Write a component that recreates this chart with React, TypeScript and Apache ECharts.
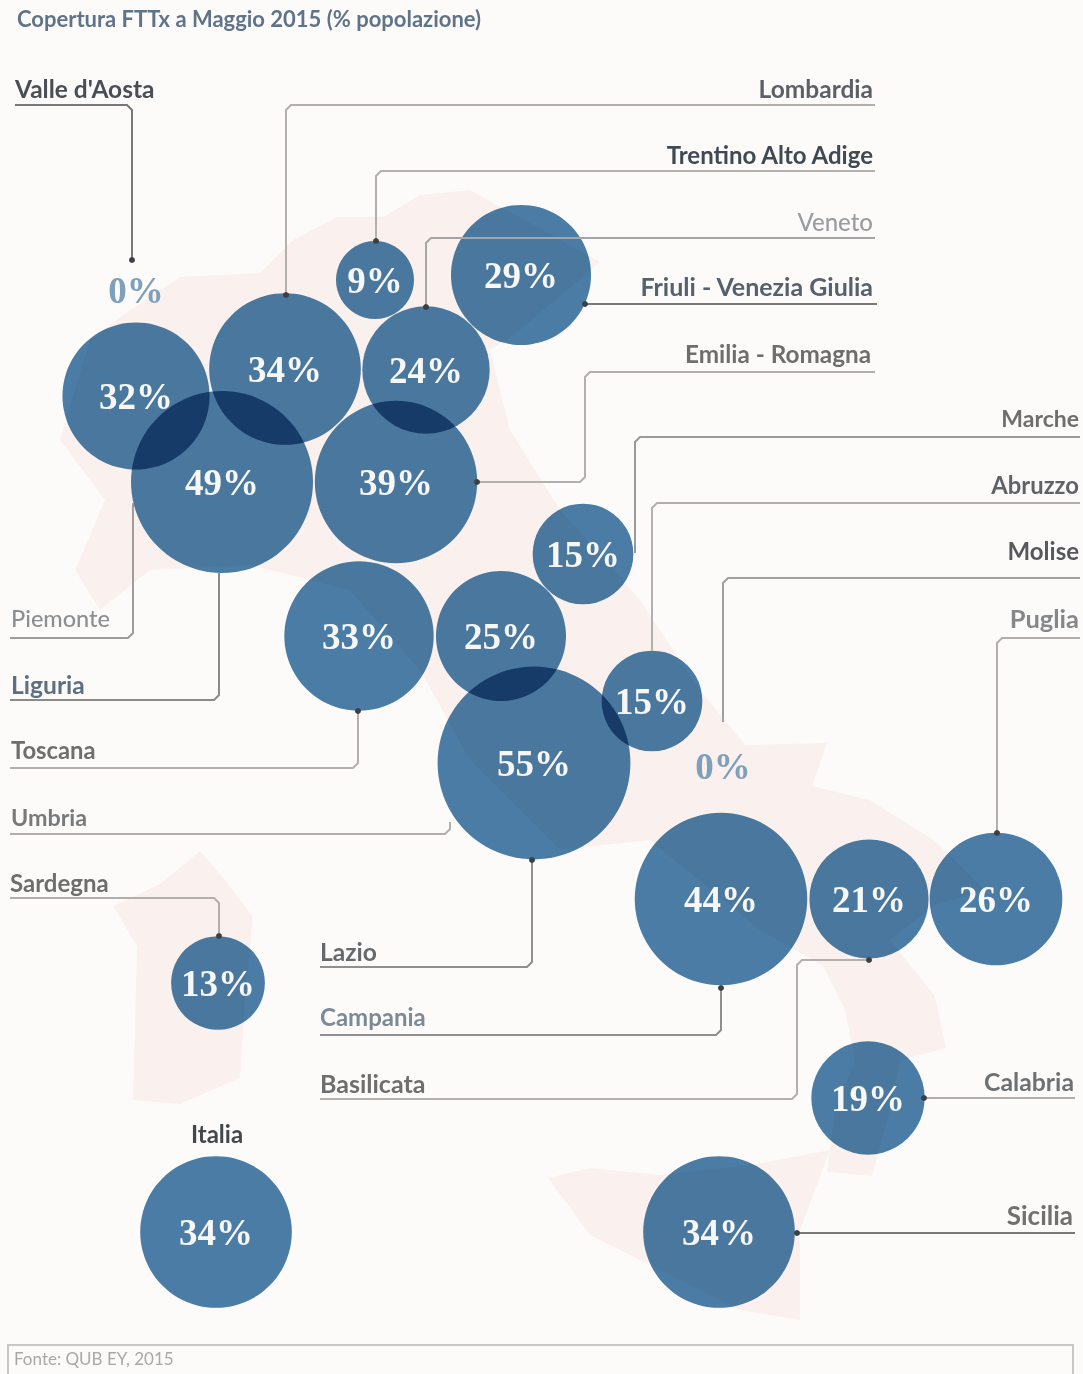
import React, { useEffect, useRef } from "react";
import * as echarts from "echarts";

const regions = ["Piemonte","Valle d'Aosta","Lombardia","Trentino Alto Adige","Veneto","Friuli - Venezia Giulia","Liguria","Emilia - Romagna","Toscana","Umbria","Marche","Lazio","Abruzzo","Molise","Campania","Puglia","Basilicata","Calabria","Sicilia","Sardegna","Italia"];
const coverage = [32,0,34,9,24,29,49,39,33,25,15,55,15,0,44,26,21,19,34,13,34];
const bubbleX = [136,136,285,375,426,521,222,396,359,501,583,534,652,723,721,996,869,868,719,218,216];
const bubbleY = [396,290,369,280,370,275,482,482,636,636,554,763,701,766,899,899,899,1098,1232,983,1232];

const title = "Copertura FTTx a Maggio 2015 (% popolazione)";
const source = "Fonte: QUB EY, 2015";

// label layout: region name, x, y, align, colour, weight, font size
const labelLayout: [string, number, number, string, string, number, number][] = [
  ["Valle d'Aosta",15,88,"left","#4a4f55",700,24.5],
  ["Lombardia",873,88,"right","#5c6066",700,24.5],
  ["Trentino Alto Adige",873,154,"right","#3f4a55",700,24],
  ["Veneto",873,221,"right","#9a9da0",500,24],
  ["Friuli - Venezia Giulia",873,286,"right","#55616c",700,25],
  ["Emilia - Romagna",871,353,"right","#6e6e6e",700,24.3],
  ["Marche",1079,418,"right","#6e6e6e",700,23],
  ["Abruzzo",1079,485,"right","#5f6368",700,23.8],
  ["Molise",1079,550,"right","#55595e",700,24],
  ["Puglia",1079,618,"right","#85888b",700,25.5],
  ["Piemonte",11,618,"left","#8c8f92",500,23.5],
  ["Liguria",11,684,"left","#5d6f80",700,24.6],
  ["Toscana",11,750,"left","#6e6e6e",700,23.8],
  ["Umbria",11,817,"left","#77797b",700,23.3],
  ["Sardegna",10,882,"left","#6e6e6e",700,24],
  ["Lazio",320,951,"left","#66696c",700,24.6],
  ["Campania",320,1016,"left","#7c8a96",700,24],
  ["Basilicata",320,1083,"left","#6e6e6e",700,25],
  ["Calabria",1074,1081,"right","#6e7174",700,24.8],
  ["Sicilia",1073,1215,"right","#707070",700,26],
  ["Italia",217,1133,"center","#45484b",700,24],
];

// connector routes: points, colour, whether the end carries a dot
const connectors: [number[][], string, boolean][] = [
  [[[15,105],[132,105],[132,260]],"#77787a",true],
  [[[875,105],[286,105],[286,295]],"#b3afad",true],
  [[[875,171],[376,171],[376,241]],"#b3afad",true],
  [[[875,238],[426,238],[426,307]],"#a5a5a5",true],
  [[[877,304],[585,304]],"#77787a",true],
  [[[875,372],[585,372],[585,482],[477,482]],"#b3afad",true],
  [[[1080,437],[635,437],[635,553]],"#9a9a9a",false],
  [[[1080,503],[652,503],[652,651]],"#b3afad",false],
  [[[1080,578],[723,578],[723,722]],"#a0a0a0",false],
  [[[1080,638],[997,638],[997,833]],"#b3afad",true],
  [[[10,638],[133,638],[133,503]],"#9d9d9d",false],
  [[[10,700],[219,700],[219,573]],"#8a8a8a",false],
  [[[10,768],[358,768],[358,711]],"#b3afad",true],
  [[[10,834],[450,834],[450,822]],"#b3afad",false],
  [[[10,898],[219,898],[219,936]],"#b3afad",true],
  [[[320,967],[532,967],[532,860]],"#8f8f8f",true],
  [[[320,1035],[721,1035],[721,988]],"#8f8f8f",true],
  [[[320,1099],[797,1099],[797,960],[869,960]],"#b3afad",true],
  [[[1075,1098],[924,1098]],"#b3afad",true],
  [[[1075,1233],[797,1233]],"#77787a",true],
];

const mainland = [[180,277],[260,273],[293,240],[337,217],[383,217],[420,195],[470,190],[600,262],[520,330],[490,350],[510,430],[560,510],[640,600],[700,690],[745,745],[827,743],[812,786],[870,800],[935,841],[985,890],[935,905],[890,940],[935,996],[946,1048],[900,1060],[890,1110],[872,1176],[827,1172],[835,1110],[855,1060],[845,1010],[823,966],[760,930],[650,840],[560,850],[470,760],[420,670],[350,590],[250,565],[150,570],[100,610],[75,570],[105,500],[60,440],[90,340],[130,310]];
const sicily = [[548,1178],[590,1168],[660,1175],[750,1165],[830,1150],[800,1230],[800,1320],[740,1310],[660,1270],[590,1235]];
const sardinia = [[200,851],[225,880],[253,917],[245,1000],[240,1078],[180,1104],[133,1100],[137,946],[113,906],[160,884]];

const chamfer = (pts: number[][]) => {
  const out: number[][] = [pts[0]];
  for (let i = 1; i < pts.length - 1; i++) {
    const [a, b, c] = [pts[i - 1], pts[i], pts[i + 1]];
    const d = 5;
    const s = (u: number) => Math.sign(u);
    out.push([b[0] + s(a[0] - b[0]) * d, b[1] + s(a[1] - b[1]) * d]);
    out.push([b[0] + s(c[0] - b[0]) * d, b[1] + s(c[1] - b[1]) * d]);
  }
  out.push(pts[pts.length - 1]);
  return out;
};

export default function App() {
  const ref = useRef<HTMLDivElement>(null);
  useEffect(() => {
    document.body.style.margin = "0";
    document.body.style.overflow = "hidden";
    const chart = echarts.init(ref.current!, null, { renderer: "svg" });
    const landStyle = { fill: "#faf1ee" };
    const text = (t: string, x: number, y: number, align: string, fill: string, weight: number, size: number, family = "Lato") => ({
      type: "text", x, y, z: 5,
      style: { text: t, fill, textAlign: align, textVerticalAlign: "middle", font: `${weight} ${size}px ${family}` },
    });
    chart.setOption({
      animation: false,
      backgroundColor: "#fdfbfa",
      grid: { left: 0, right: 0, top: 0, bottom: 0 },
      xAxis: { type: "value", min: 0, max: 1083, show: false },
      yAxis: { type: "value", min: 0, max: 1374, inverse: true, show: false },
      graphic: [
        { type: "polygon", z: 0, shape: { points: mainland }, style: landStyle },
        { type: "polygon", z: 0, shape: { points: sicily }, style: landStyle },
        { type: "polygon", z: 0, shape: { points: sardinia }, style: landStyle },
        text(title, 17, 18, "left", "#5f7488", 700, 22),
        ...labelLayout.map(([t, x, y, a, c, w, s]) => text(t, x, y, a, c, w, s)),
        text(source, 14, 1358, "left", "#a8a8a8", 400, 17),
        { type: "polyline", z: 1, shape: { points: [[8, 1374], [8, 1345], [1073, 1345], [1073, 1374]] }, style: { stroke: "#c8c6c6", lineWidth: 2, fill: "none" } },
      ],
      series: [
        {
          type: "scatter",
          z: 3,
          data: regions.map((name, i) => ({
            name,
            value: [bubbleX[i], bubbleY[i], coverage[i]],
            label: { color: coverage[i] === 0 ? "#7fa0ba" : "#f7f7f5" },
          })),
          symbol: "circle",
          symbolSize: (d: number[]) => 26 * Math.sqrt(d[2]),
          itemStyle: { color: "#4a7ea8", opacity: 1 },
          label: {
            show: true,
            position: "inside",
            fontFamily: "Liberation Serif",
            fontWeight: 700,
            fontSize: 37,
            formatter: (p: any) => `${p.value[2]}%`,
          },
        },
        {
          type: "custom",
          z: 4,
          coordinateSystem: "cartesian2d",
          data: connectors.map((_, i) => [i]),
          renderItem: (params: any, api: any) => {
            const [route, color, dot] = connectors[params.dataIndex];
            const pts = chamfer(route).map((p) => api.coord(p));
            const end = api.coord(route[route.length - 1]);
            const children: any[] = [
              { type: "polyline", shape: { points: pts }, style: { stroke: color, lineWidth: 2, fill: "none" } },
            ];
            if (dot) children.push({ type: "circle", shape: { cx: end[0], cy: end[1], r: 3 }, style: { fill: "#3c4045" } });
            return { type: "group", silent: true, children };
          },
        },
      ],
    });
    return () => chart.dispose();
  }, []);
  return (
    <>
      <style>{`path[fill="#4a7ea8"]{mix-blend-mode:multiply}`}</style>
      <div ref={ref} style={{ width: 1083, height: 1374 }} />
    </>
  );
}
